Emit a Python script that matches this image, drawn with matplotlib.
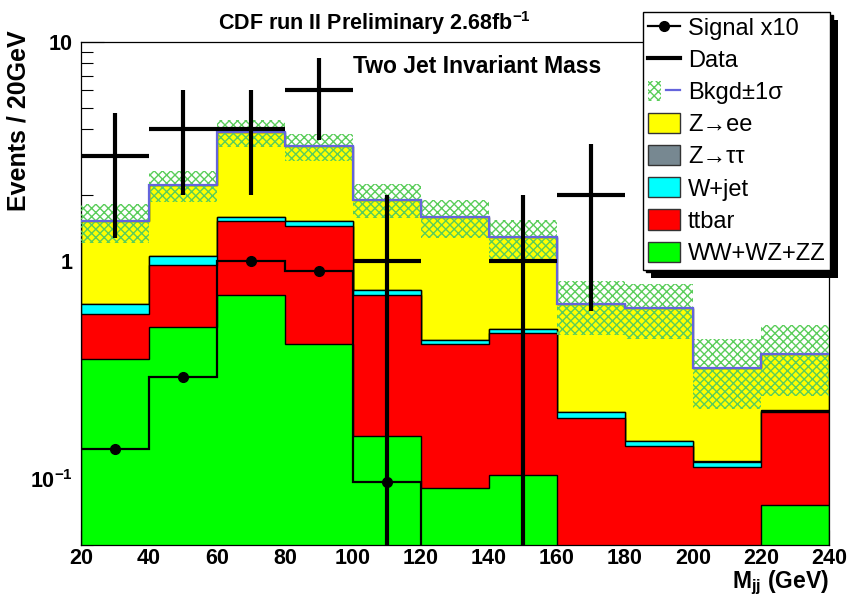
import numpy as np
import matplotlib

matplotlib.use("Agg")
import matplotlib.pyplot as plt
from matplotlib.lines import Line2D
from matplotlib.patches import Patch
from matplotlib.ticker import LogLocator, MultipleLocator, NullFormatter
from matplotlib.legend_handler import HandlerTuple

plt.rcParams["font.family"] = ["Liberation Sans", "DejaVu Sans"]
plt.rcParams["mathtext.fontset"] = "custom"
plt.rcParams["mathtext.rm"] = "Liberation Sans"
plt.rcParams["mathtext.bf"] = "Liberation Sans:bold"
plt.rcParams["hatch.linewidth"] = 1.0

# 20 GeV bins in M_jj
edges = np.arange(20, 241, 20)

# backgrounds, events / bin (stack order bottom -> top)
ww = [0.353, 0.496, 0.695, 0.417, 0.158, 0.091, 0.104, 0.030, 0.020, 0.020, 0.076]
ttbar = [0.214, 0.462, 0.815, 1.028, 0.537, 0.326, 0.360, 0.161, 0.122, 0.094, 0.126]
wjet = [0.067, 0.088, 0.080, 0.065, 0.035, 0.017, 0.020, 0.011, 0.007, 0.006, 0.004]
ztautau = [0.001] * 11
zee = [0.875, 1.163, 2.279, 1.819, 1.169, 1.145, 0.795, 0.427, 0.458, 0.203, 0.168]
bkg_err = [0.30, 0.36, 0.55, 0.48, 0.33, 0.31, 0.26, 0.175, 0.17, 0.115, 0.135]

signal_x10 = [0.137, 0.293, 1.0, 0.894, 0.097, 0, 0, 0, 0, 0, 0]
data = [3, 4, 4, 6, 1, 0, 1, 2, 0, 0, 0]

stack_labels = ["WW+WZ+ZZ", "ttbar", "W+jet", "Z\u2192\u03c4\u03c4", "Z\u2192ee"]
stack_colors = ["#00ff00", "#ff0000", "#00ffff", "#778891", "#ffff00"]

band_green = "#5acd5a"
band_hatch = "xxxx"
blue = "#6464dc"

W, H = 849, 603
fig = plt.figure(figsize=(W / 100, H / 100), dpi=100)
ax = fig.add_axes([81 / W, 1 - 545 / H, 748 / W, 503 / H], zorder=0)
ax.set_yscale("log", nonpositive="clip")

comps = np.vstack([ww, ttbar, wjet, ztautau, zee])
cum = np.cumsum(comps, axis=0)
total = cum[-1]
err = np.array(bkg_err)

# THStack style: draw cumulative histograms from the top one down
for i in range(len(cum) - 1, -1, -1):
    ax.stairs(cum[i], edges, baseline=1e-4, fill=True,
              facecolor=stack_colors[i], edgecolor="k", linewidth=1, zorder=2 + (4 - i) * 0.1)

ax.stairs(total + err, edges, baseline=total - err, fill=True, facecolor="none",
          edgecolor=band_green, hatch=band_hatch, linewidth=0, zorder=3)
ax.stairs(total, edges, baseline=None, color=blue, linewidth=1.6, zorder=3.5)

centers = 0.5 * (edges[:-1] + edges[1:])
half = 0.5 * np.diff(edges)

sig = np.array(signal_x10, dtype=float)
ax.stairs(sig, edges, baseline=None, color="k", linewidth=1.6, zorder=4)
m = sig > 0
ax.plot(centers[m], sig[m], "o", color="k", markersize=7, zorder=4.5)

d = np.array(data, dtype=float)
m = d > 0
ax.errorbar(centers[m], d[m], xerr=half[m], yerr=np.sqrt(d[m]), fmt="none",
            ecolor="k", elinewidth=3, capsize=0, zorder=5)

ax.set_xlim(20, 240)
ax.set_ylim(0.05, 10)

ax.set_xticks(np.arange(20, 241, 20), labels=[str(v) for v in range(20, 241, 20)],
              fontweight="bold")
ax.xaxis.set_minor_locator(MultipleLocator(5))
ax.set_yticks([0.1, 1, 10], labels=[r"$\mathbf{10^{-1}}$", "1", "10"], fontweight="bold")
ax.yaxis.set_minor_locator(LogLocator(base=10, subs=np.arange(2, 10)))
ax.yaxis.set_minor_formatter(NullFormatter())

ax.tick_params(axis="x", which="major", direction="in", length=11, width=0.8,
               top=False, labelsize=15.5, pad=2.5)
ax.tick_params(axis="x", which="minor", direction="in", length=5.5, width=0.8, top=False)
ax.tick_params(axis="y", which="major", direction="in", length=16.5, width=0.8,
               right=False, labelsize=15.5, pad=6)
ax.tick_params(axis="y", which="minor", direction="in", length=8.5, width=0.8, right=False)
for s in ax.spines.values():
    s.set_linewidth(0.9)

fig.text(218 / W, 1 - 30 / H, r"CDF run II Preliminary 2.68fb$^{\mathbf{-1}}$",
         fontsize=15.5, fontweight="bold", ha="left", va="baseline")
fig.text(353 / W, 1 - 73 / H, "Two Jet Invariant Mass",
         fontsize=16.5, fontweight="bold", ha="left", va="baseline")
fig.text(19 / W, 1 - 30 / H, "Events / 20GeV", rotation=90,
         fontsize=18, fontweight="bold", ha="center", va="top")
fig.text(829 / W, 1 - 588 / H, r"M$_{\mathbf{jj}}$ (GeV)",
         fontsize=16.5, fontweight="bold", ha="right", va="baseline")

handles = [
    Line2D([], [], color="k", lw=1.6, marker="o", markersize=7),
    Line2D([], [], color="k", lw=3),
    (Patch(facecolor="white", edgecolor=band_green, hatch=band_hatch, linewidth=0),
     Line2D([], [], color=blue, lw=1.6)),
]
labels = ["Signal x10", "Data", "Bkgd\u00b11\u03c3"]
for i in range(len(cum) - 1, -1, -1):
    handles.append(Patch(facecolor=stack_colors[i], edgecolor="#333333", linewidth=1))
    labels.append(stack_labels[i])

leg = fig.legend(handles, labels, loc="upper left", bbox_to_anchor=(643 / W, 1 - 12 / H),
                 frameon=True, fancybox=False, edgecolor="k", framealpha=1, fontsize=17,
                 handlelength=1.35, handleheight=0.93, labelspacing=0.38, borderpad=0.2,
                 handletextpad=0.35, borderaxespad=0,
                 shadow={"color": "black", "alpha": 1.0},
                 handler_map={tuple: HandlerTuple(ndivide=None)})
leg.get_frame().set_linewidth(1)
leg.set_zorder(10)

# ROOT-style drop shadow: a black panel offset down/right from the legend frame
fig.canvas.draw()
fb = leg.get_frame().get_window_extent(fig.canvas.get_renderer())
off = 8
shadow_ax = fig.add_axes([(fb.x0 + off) / W, (fb.y0 - off) / H, fb.width / W, fb.height / H],
                         zorder=5)
shadow_ax.set_facecolor("black")
shadow_ax.set_xticks([])
shadow_ax.set_yticks([])
for s in shadow_ax.spines.values():
    s.set_visible(False)

fig.savefig("out.png", dpi=100)
